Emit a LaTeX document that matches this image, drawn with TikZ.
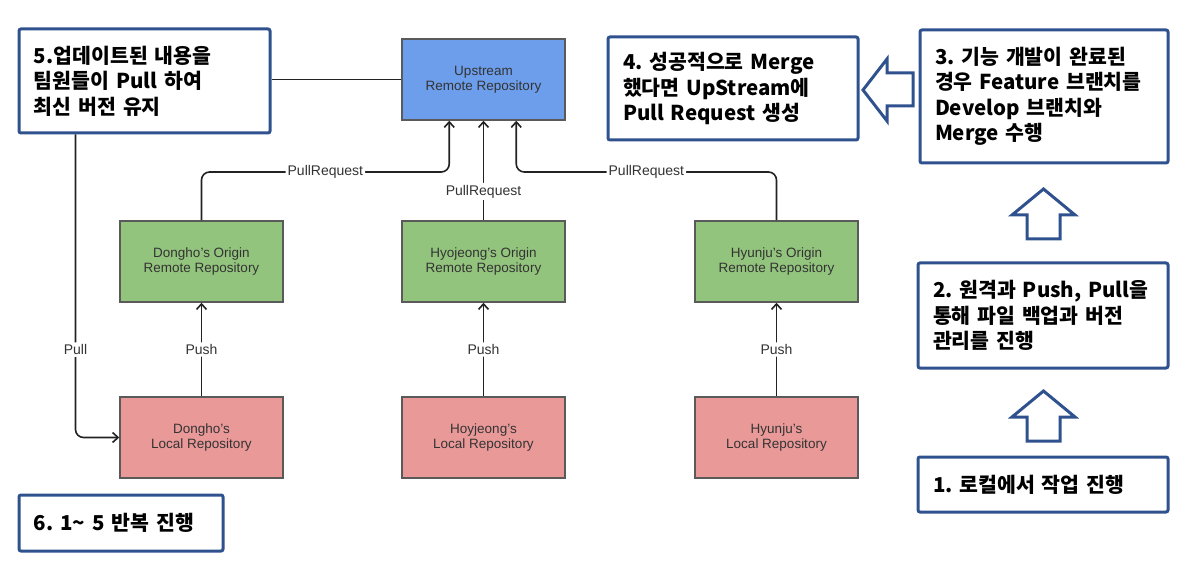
\documentclass[tikz,border=0pt]{standalone}
\usepackage{fontspec}
\setmainfont{Liberation Sans}
\newfontfamily\kr{Noto Sans CJK KR}
\usetikzlibrary{arrows.meta,calc}
\definecolor{upblue}{HTML}{6D9EEB}
\definecolor{grn}{HTML}{93C47D}
\definecolor{rd}{HTML}{EA9999}
\definecolor{edgegray}{HTML}{5A5A5A}
\definecolor{navy}{HTML}{2F528F}
\definecolor{txt}{HTML}{333333}
\definecolor{linec}{HTML}{222222}
\tikzset{
  repo/.style={draw=edgegray, line width=1.5pt, minimum width=163pt, minimum height=81pt,
    inner sep=0pt, align=center, font=\fontsize{13.5}{15}\selectfont, text=txt},
  note/.style={draw=navy, line width=3pt, rounded corners=2pt, fill=white, align=left,
    inner xsep=15pt, inner ysep=0pt, font=\kr\bfseries\fontsize{20.5}{25.5}\selectfont},
  conn/.style={draw=linec, line width=1.6pt, rounded corners=8pt},
  arr/.style={-{Straight Barb[length=5.5pt,width=10pt]}},
  lbl/.style={fill=white, inner sep=2pt, font=\fontsize{14}{16}\selectfont, text=txt},
  blockarrow/.style={draw=navy, line width=3pt, fill=white, line join=miter}
}
\begin{document}
\begin{tikzpicture}[x=1pt,y=-1pt]
\useasboundingbox (0,0) rectangle (1181,561);
% repositories
\node[repo, fill=upblue] (up) at (483.5,79.5) {Upstream\\Remote Repository};
\node[repo, fill=grn] (dg) at (201.5,261.5) {Dongho's Origin\\Remote Repository};
\node[repo, fill=grn] (hg) at (483.5,261.5) {Hyojeong's Origin\\Remote Repository};
\node[repo, fill=grn] (yg) at (776.5,261.5) {Hyunju's Origin\\Remote Repository};
\node[repo, fill=rd] (dl) at (201.5,437.5) {Dongho's\\Local Repository};
\node[repo, fill=rd] (hl) at (483.5,437.5) {Hoyjeong's\\Local Repository};
\node[repo, fill=rd] (yl) at (776.5,437.5) {Hyunju's\\Local Repository};
% notes
\node[note, minimum width=251pt, text width=221pt, minimum height=104pt] (n5) at (144.5,81)
  {5.업데이트된~내용을\\팀원들이~Pull~하여\\최신~버전~유지};
\node[note, minimum width=250pt, text width=220pt, minimum height=103pt] (n4) at (733,88.5)
  {4.~성공적으로~Merge\\했다면~UpStream에\\Pull~Request~생성};
\node[note, minimum width=248pt, text width=218pt, minimum height=133pt] (n3) at (1044,96.5)
  {3.~기능~개발이~완료된\\경우~Feature~브랜치를\\Develop~브랜치와\\Merge~수행};
\node[note, minimum width=250pt, text width=220pt, minimum height=105pt] (n2) at (1043,315.5)
  {2.~원격과~Push,~Pull을\\통해~파일~백업과~버전\\관리를~진행};
\node[note, minimum width=250pt, text width=220pt, minimum height=55pt] (n1) at (1043,484.5)
  {1.~로컬에서~작업~진행};
\node[note, minimum width=204pt, text width=174pt, minimum height=56pt] (n6) at (121,523)
  {6.~1\textasciitilde{}~5~반복~진행};
% helper coordinates
\coordinate (pr) at (0,172);
\coordinate (u1) at ($(up.south west)+(48,0)$);
\coordinate (u2) at (up.south);
\coordinate (u3) at ($(up.south west)+(115,0)$);
\coordinate (ps) at ($(n5.south west)+(58,0)$);
% connectors
\draw[conn] (up.west -| n5.east) -- (up.west);
\draw[conn, arr] (ps) -- node[lbl, pos=0.71]{Pull} (ps |- dl.west) -- (dl.west);
\draw[conn, arr] (dl.north) -- node[lbl]{Push} (dg.south);
\draw[conn, arr] (hl.north) -- node[lbl]{Push} (hg.south);
\draw[conn, arr] (yl.north) -- node[lbl]{Push} (yg.south);
\draw[conn, arr] (dg.north) |- node[lbl, pos=0.75]{PullRequest} (u1 |- pr) -- (u1);
\draw[conn, arr] (hg.north) -- node[lbl, pos=0.29]{PullRequest} (u2);
\draw[conn, arr] (yg.north) |- node[lbl, pos=0.75]{PullRequest} (u3 |- pr) -- (u3);
% block arrows
\draw[blockarrow] (863,90) -- (887,59) -- (887,73) -- (913,73) -- (913,106) -- (887,106) -- (887,121) -- cycle;
\draw[blockarrow] (1043.5,189) -- (1075,215) -- (1060,215) -- (1060,239) -- (1027,239) -- (1027,215) -- (1012,215) -- cycle;
\draw[blockarrow] (1043.5,391) -- (1075,417) -- (1060,417) -- (1060,441) -- (1027,441) -- (1027,417) -- (1012,417) -- cycle;
\end{tikzpicture}
\end{document}
